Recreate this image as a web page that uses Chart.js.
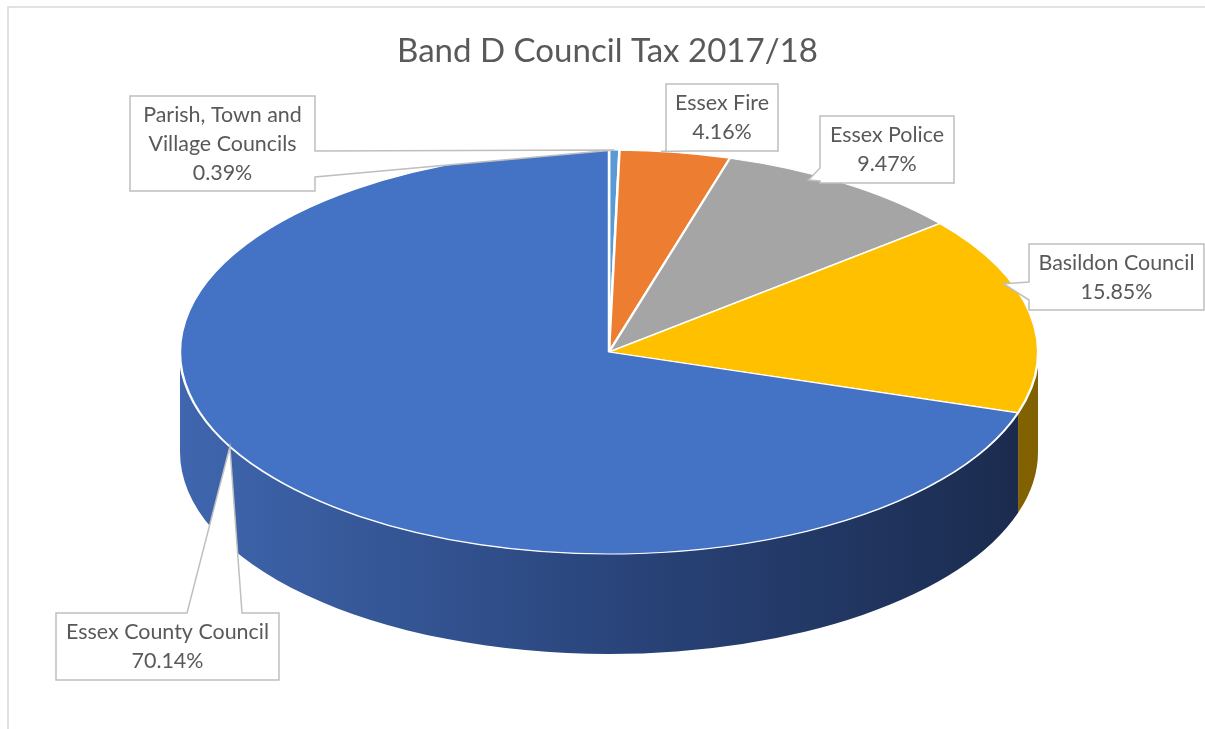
<!DOCTYPE html>
<html><head><meta charset="utf-8">
<script src="https://cdn.jsdelivr.net/npm/chart.js@4/dist/chart.umd.min.js"></script>
<style>html,body{margin:0;padding:0;background:#fff;overflow:hidden}#wrap{width:1205px;height:729px;position:relative}</style>
</head><body><div id="wrap"><canvas id="c" width="1205" height="729"></canvas></div>
<script>
// ---- data ----
const categories = ['Parish, Town and Village Councils', 'Essex Fire', 'Essex Police', 'Basildon Council', 'Essex County Council'];
const shares = [0.39, 4.16, 9.47, 15.85, 70.14];
const valueLabels = ['0.39%', '4.16%', '9.47%', '15.85%', '70.14%'];
const labelLines = [['Parish, Town and', 'Village Councils'], ['Essex Fire'], ['Essex Police'], ['Basildon Council'], ['Essex County Council']];
const titleText = 'Band D Council Tax 2017/18';

// ---- styles ----
const topColors = ['#5B9BD5', '#ED7D31', '#A5A5A5', '#FFC000', '#4472C4'];
const sideColors = [
  ['#4F8CC8', '#3A6E9E', '#2A5078'],
  ['#D06A22', '#A35218', '#7A3C10'],
  ['#909090', '#727272', '#555555'],
  ['#E0A800', '#B08400', '#806000'],
  ['#3F66AE', '#2A457C', '#1A2A4C']
];
const VIEW = {cx: 609, cy: 352, rx: 429, ry: 202, depth: 100};
// label boxes: x,y,w,h, wedge edge, wedge base (2 coords along edge), anchor fraction in slice, radius fraction
const BOXES = [
  {x: 130, y: 96, w: 185, h: 95, edge: 'right', b: [151, 177], f: 0.5, r: 1.0},
  {x: 666, y: 84, w: 112, h: 67, edge: 'bottom', b: [667, 687], f: 0.37, r: 1.0},
  {x: 820, y: 116, w: 134, h: 67, edge: 'left', b: [168, 181], f: 0.36, r: 0.97},
  {x: 1029, y: 244, w: 175, h: 66, edge: 'left', b: [282, 300], f: 0.34, r: 0.98},
  {x: 56, y: 613, w: 223, h: 67, edge: 'top', b: [187, 242], f: 0.533, r: 1.0}
];
const FONT = 'Lato, "Open Sans", sans-serif';

function fitSize(text, target, weight) {
  const c = document.createElement('canvas').getContext('2d');
  c.font = (weight || 'normal') + ' 100px ' + FONT;
  return 100 * target / c.measureText(text).width;
}
const titleSize = fitSize(titleText, 421);
const labelSize = fitSize('Essex County Council', 203);

function sliceFrame(chart) {
  const meta = chart.getDatasetMeta(0);
  const arcs = meta.data;
  const R = arcs[0].outerRadius;
  return {arcs, R, k: VIEW.ry / R, ox: arcs[0].x, oy: arcs[0].y};
}

const framePlugin = {
  id: 'frame',
  beforeDraw(chart) {
    const ctx = chart.ctx;
    ctx.save();
    ctx.fillStyle = '#fff';
    ctx.fillRect(0, 0, chart.width, chart.height);
    ctx.strokeStyle = '#D9D9D9';
    ctx.lineWidth = 1.5;
    ctx.strokeRect(8, 7, 1400, 900);
    ctx.restore();
  }
};

const pie3d = {
  id: 'pie3d',
  beforeDatasetsDraw(chart) {
    const ctx = chart.ctx;
    const {arcs, R, k, ox, oy} = sliceFrame(chart);
    const rx = R, ry = k * R, cx = VIEW.cx, cy = VIEW.cy, d = VIEW.depth;
    arcs.forEach((arc, i) => {
      const s = arc.startAngle, e = arc.endAngle;
      for (const [lo, hi] of [[-2 * Math.PI, -Math.PI], [0, Math.PI], [2 * Math.PI, 3 * Math.PI]]) {
        const a = Math.max(s, lo), b = Math.min(e, hi);
        if (b > a) {
          ctx.save();
          ctx.beginPath();
          ctx.ellipse(cx, cy, rx, ry, 0, a, b, false);
          ctx.ellipse(cx, cy + d, rx, ry, 0, b, a, true);
          ctx.closePath();
          const g = ctx.createLinearGradient(cx - rx, 0, cx + rx, 0);
          g.addColorStop(0, sideColors[i][0]);
          g.addColorStop(0.5, sideColors[i][1]);
          g.addColorStop(1, sideColors[i][2]);
          ctx.fillStyle = g;
          ctx.fill();
          ctx.restore();
        }
      }
    });
    ctx.save();
    ctx.translate(cx, cy);
    ctx.scale(1, k);
    ctx.translate(-ox, -oy);
  },
  afterDatasetsDraw(chart) {
    chart.ctx.restore();
  }
};

const calloutPlugin = {
  id: 'callouts',
  afterDraw(chart) {
    const ctx = chart.ctx;
    const {arcs, R, k} = sliceFrame(chart);
    ctx.save();
    BOXES.forEach((bx, i) => {
      const arc = arcs[i];
      const th = arc.startAngle + bx.f * (arc.endAngle - arc.startAngle);
      const tx = VIEW.cx + R * bx.r * Math.cos(th);
      const ty = VIEW.cy + k * R * bx.r * Math.sin(th);
      const L = bx.x, T = bx.y, Rr = bx.x + bx.w, B = bx.y + bx.h;
      const b1 = Math.min(bx.b[0], bx.b[1]), b2 = Math.max(bx.b[0], bx.b[1]);
      ctx.beginPath();
      ctx.moveTo(L, T);
      if (bx.edge === 'top') { ctx.lineTo(b1, T); ctx.lineTo(tx, ty); ctx.lineTo(b2, T); }
      ctx.lineTo(Rr, T);
      if (bx.edge === 'right') { ctx.lineTo(Rr, b1); ctx.lineTo(tx, ty); ctx.lineTo(Rr, b2); }
      ctx.lineTo(Rr, B);
      if (bx.edge === 'bottom') { ctx.lineTo(b2, B); ctx.lineTo(tx, ty); ctx.lineTo(b1, B); }
      ctx.lineTo(L, B);
      if (bx.edge === 'left') { ctx.lineTo(L, b2); ctx.lineTo(tx, ty); ctx.lineTo(L, b1); }
      ctx.closePath();
      ctx.fillStyle = '#fff';
      ctx.fill();
      ctx.strokeStyle = '#BFBFBF';
      ctx.lineWidth = 1.5;
      ctx.lineJoin = 'miter';
      ctx.stroke();
      const lines = labelLines[i].concat([valueLabels[i]]);
      ctx.fillStyle = '#595959';
      ctx.font = labelSize.toFixed(2) + 'px ' + FONT;
      ctx.textAlign = 'center';
      ctx.textBaseline = 'middle';
      lines.forEach((t, j) => ctx.fillText(t, L + bx.w / 2, T + 19.5 + 29 * j));
    });
    ctx.restore();
  }
};

new Chart(document.getElementById('c'), {
  type: 'pie',
  data: {
    labels: categories,
    datasets: [{
      data: shares,
      backgroundColor: topColors,
      borderColor: '#FFFFFF',
      borderWidth: 2.5,
      clip: false
    }]
  },
  options: {
    responsive: false,
    animation: false,
    devicePixelRatio: 1,
    radius: VIEW.rx,
    layout: {padding: {left: 10}},
    plugins: {
      legend: {display: false},
      tooltip: {enabled: false},
      title: {
        display: true,
        text: titleText,
        color: '#595959',
        font: {family: FONT, size: titleSize, weight: 'normal'},
        padding: {top: 32, bottom: 0}
      }
    }
  },
  plugins: [framePlugin, pie3d, calloutPlugin]
});
</script>
</body></html>
